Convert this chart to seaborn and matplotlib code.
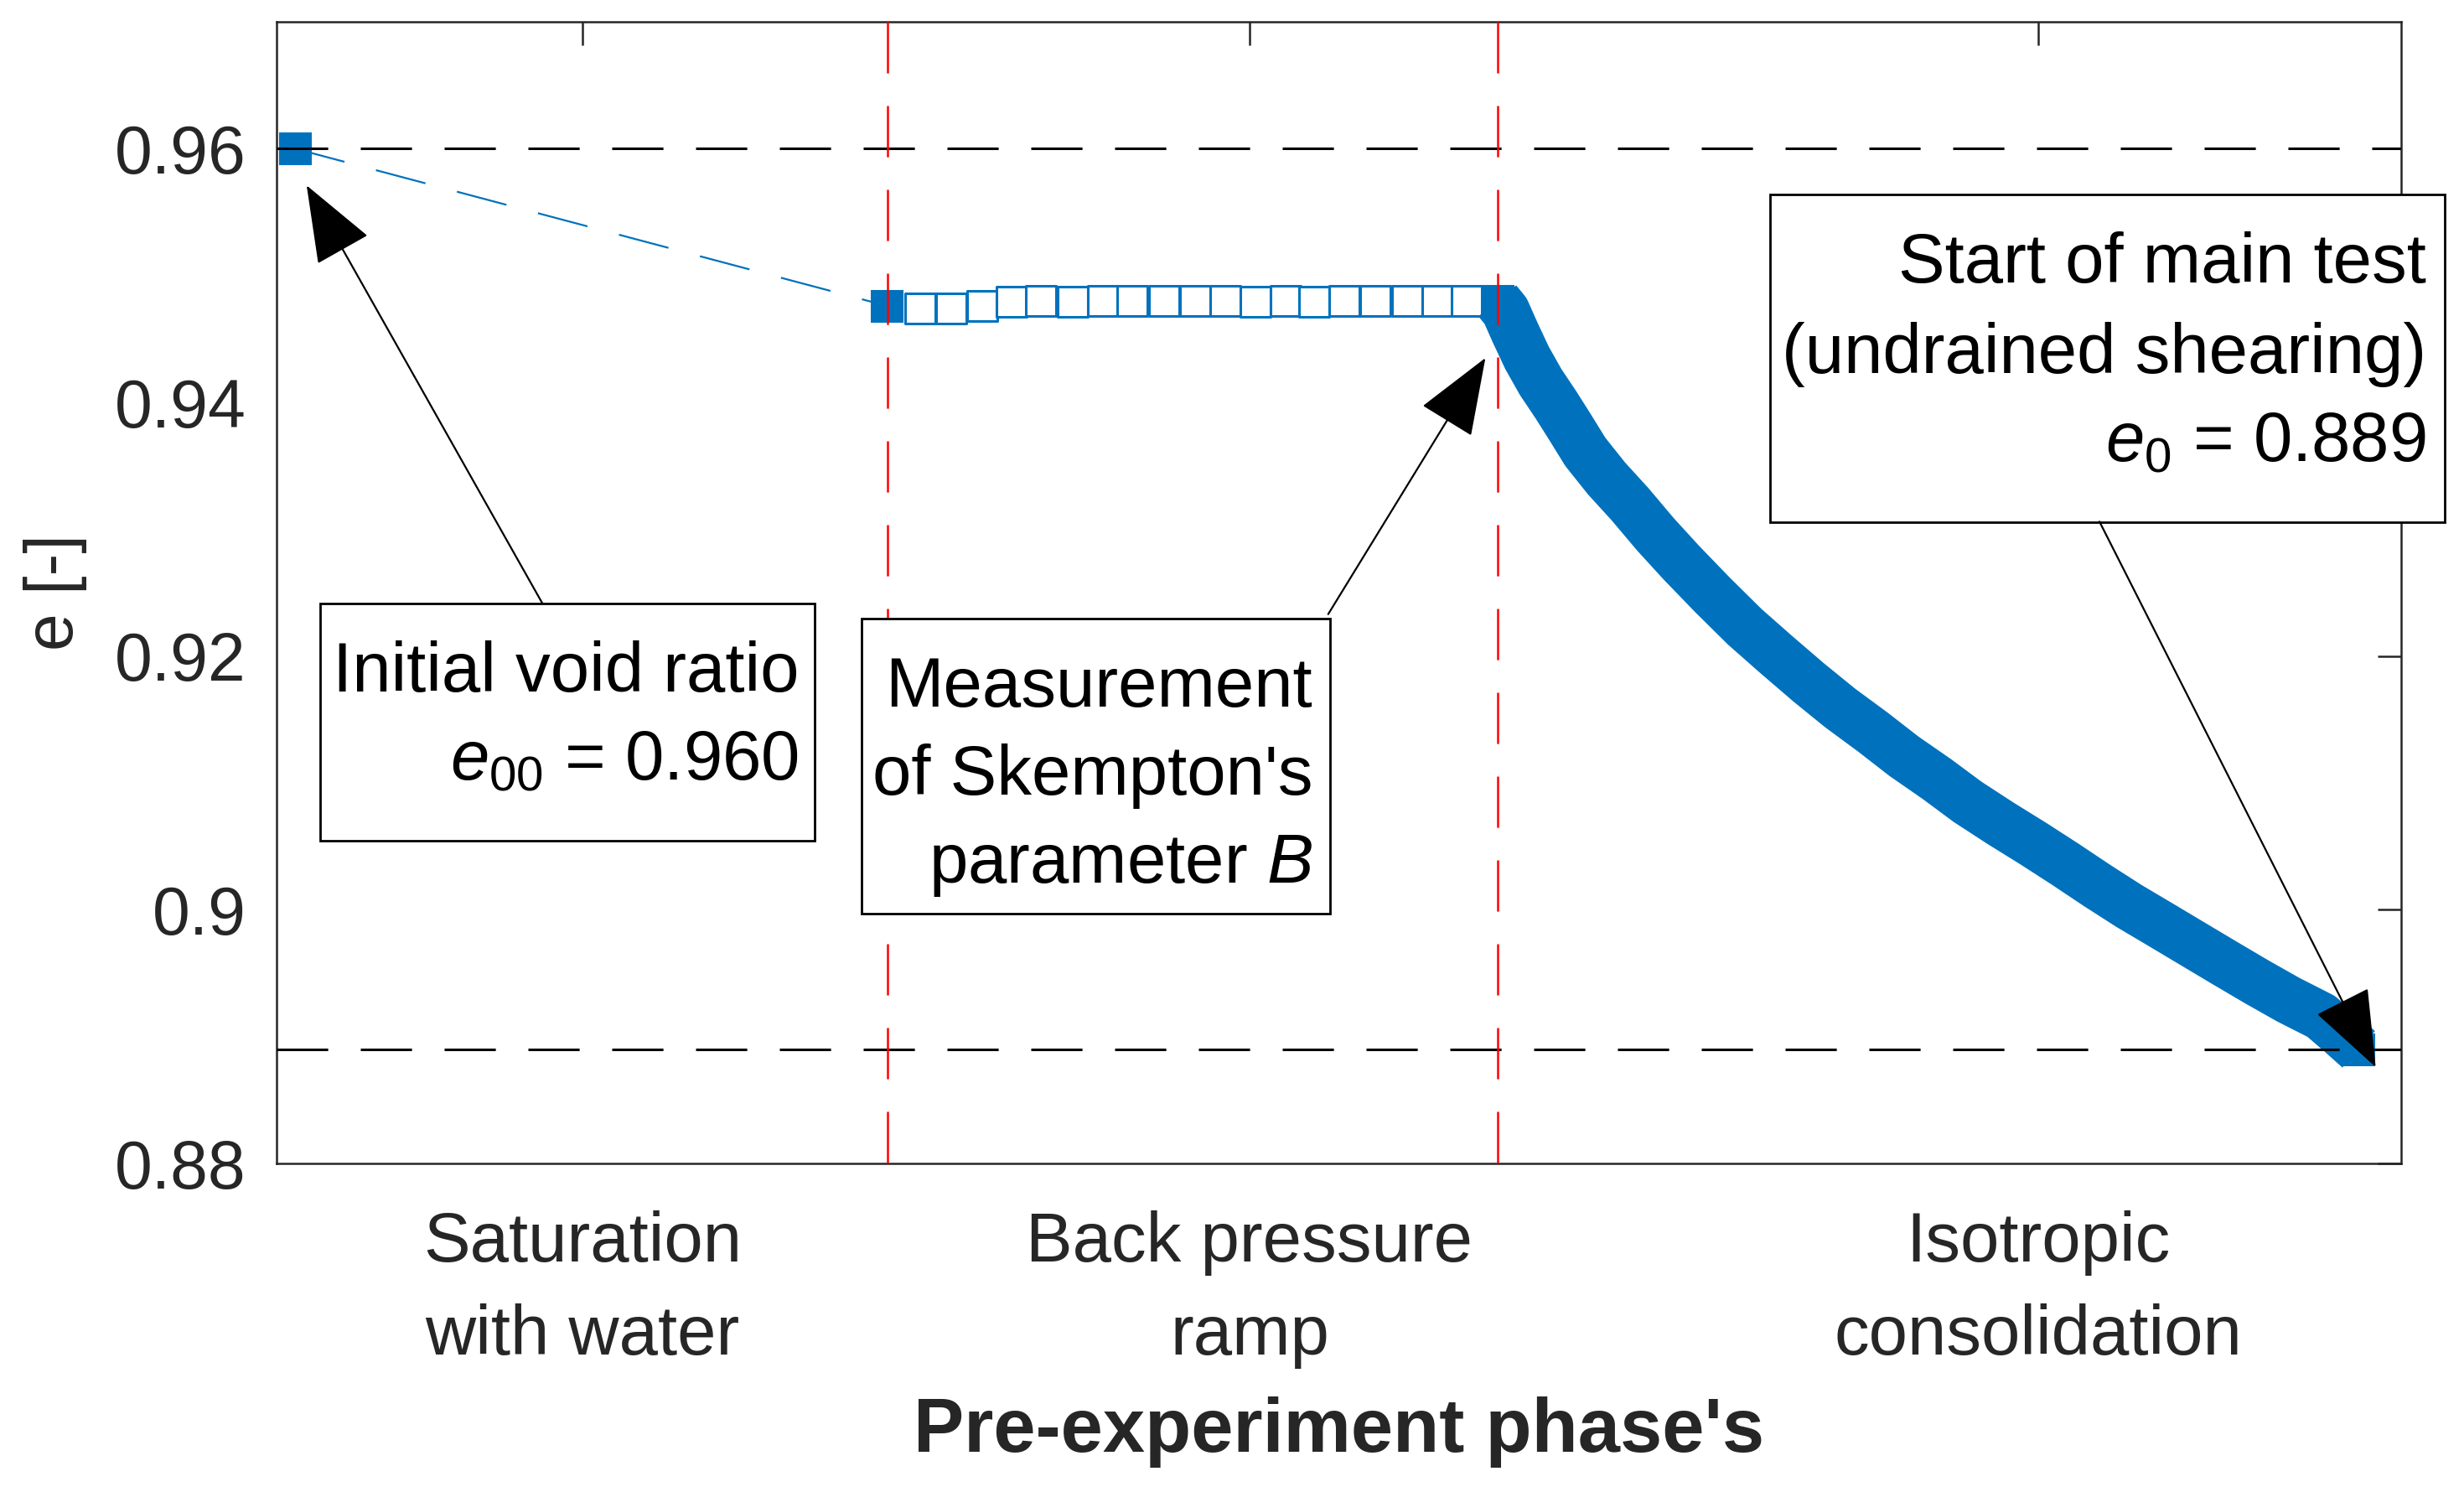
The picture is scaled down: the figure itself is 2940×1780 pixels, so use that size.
import matplotlib
matplotlib.use("Agg")
import matplotlib.pyplot as plt
from matplotlib.patches import Rectangle
import seaborn as sns

# x axis is an arbitrary "progress" scale (0-100) split into three phases
phase_ticks = [14.4, 45.8, 82.9]
phase_labels = ["Saturation\nwith water", "Back pressure\nramp", "Isotropic\nconsolidation"]
phase_bounds = [28.76, 57.46]

e00 = 0.960
e0 = 0.889

y_ticks = [0.88, 0.90, 0.92, 0.94, 0.96]
y_tick_labels = ["0.88", "0.9", "0.92", "0.94", "0.96"]

# saturation: initial state and state after saturation
sat_x = [0.87, 28.74]
sat_y = [0.9600, 0.9476]

# back pressure ramp
ramp_x = [30.28, 31.75, 33.22, 34.58, 35.99, 37.46, 38.88, 40.29, 41.76, 43.23,
          44.66, 46.06, 47.49, 48.85, 50.26, 51.73, 53.20, 54.62, 56.03]
ramp_y = [0.9474, 0.9474, 0.9476, 0.9479, 0.9480, 0.9479, 0.9480, 0.9480, 0.9480, 0.9480,
          0.9480, 0.9479, 0.9480, 0.9479, 0.9480, 0.9480, 0.9480, 0.9480, 0.9480]

# isotropic consolidation
cons_x = [57.46, 57.85, 58.30, 58.86, 59.50, 60.22, 60.90, 61.60, 62.60, 63.69,
          64.90, 66.10, 67.60, 69.11, 70.60, 72.13, 73.60, 75.14, 76.60, 78.15,
          79.60, 81.16, 82.70, 84.18, 85.70, 87.19, 88.70, 90.20, 91.70, 93.22,
          94.70, 96.23, 97.20, 98.00]
cons_y = [0.9480, 0.9472, 0.9455, 0.9435, 0.9416, 0.9398, 0.9380, 0.9361, 0.9340, 0.9320,
          0.9296, 0.9274, 0.9248, 0.9223, 0.9201, 0.9179, 0.9159, 0.9140, 0.9121, 0.9103,
          0.9085, 0.9068, 0.9052, 0.9036, 0.9019, 0.9003, 0.8988, 0.8973, 0.8958, 0.8943,
          0.8929, 0.8916, 0.8902, 0.8890]

BLUE = "#0072BD"
DARK = "#262626"
DASH = (0, (22, 14))
FS = 30

sns.set_style("white")
plt.rcParams["font.family"] = ["Liberation Sans", "DejaVu Sans"]
plt.rcParams["mathtext.fontset"] = "custom"
plt.rcParams["mathtext.rm"] = "Liberation Sans"
plt.rcParams["mathtext.it"] = "Liberation Sans:italic"
plt.rcParams["lines.scale_dashes"] = False

fig, ax = plt.subplots(figsize=(14.7, 8.9), dpi=200)
fig.subplots_adjust(left=0.1122, right=0.9745, bottom=0.2202, top=0.9854)

# data
sns.lineplot(x=sat_x, y=sat_y, ax=ax, color=BLUE, lw=0.8, linestyle=DASH,
             marker="s", markersize=13, markerfacecolor=BLUE,
             markeredgecolor=BLUE, markeredgewidth=1.1, zorder=3)
sns.scatterplot(x=ramp_x, y=ramp_y, ax=ax, marker="s", s=13 ** 2,
                facecolor="white", edgecolor=BLUE, linewidth=1.1, zorder=3)
sns.lineplot(x=cons_x, y=cons_y, ax=ax, color=BLUE, lw=21,
             solid_joinstyle="round", solid_capstyle="butt",
             marker="s", markersize=13, markerfacecolor=BLUE,
             markeredgecolor=BLUE, markeredgewidth=1.1, zorder=3)

# reference lines
for e in [e00, e0]:
    ax.axhline(e, color="black", lw=1.1, linestyle=DASH, zorder=4)
for xb in phase_bounds:
    ax.axvline(xb, ymin=1, ymax=0, color="red", lw=0.9, linestyle=DASH, zorder=4)

ax.set_xlim(0, 100)
ax.set_ylim(0.88, 0.97)
ax.set_yticks(y_ticks)
ax.set_yticklabels(y_tick_labels, fontsize=29)
ax.set_xticks(phase_ticks)
ax.set_xticklabels(phase_labels, fontsize=FS)
for lab in ax.get_xticklabels():
    lab.set_linespacing(1.55)

ax.tick_params(direction="in", length=10, width=0.9, top=True, right=True,
               color=DARK, labelcolor=DARK)
ax.tick_params(axis="x", pad=20)
ax.tick_params(axis="y", pad=13)
for sp in ax.spines.values():
    sp.set_color(DARK)
    sp.set_linewidth(0.9)

ax.set_xlabel("Pre-experiment phase's", fontsize=32.5, fontweight="bold",
              color=DARK, labelpad=12)
ax.set_ylabel("e [-]", fontsize=29, color=DARK, labelpad=12)

# annotation boxes (axes fraction): left, bottom, width, height
boxes = [
    ((0.0205, 0.2827, 0.2328, 0.2078), 0.2458,
     ["Initial void ratio", "$e_{00}$ = 0.960"], [0.4134, 0.3363]),
    ((0.2753, 0.2188, 0.2206, 0.2584), 0.4876,
     ["Measurement", "of Skempton's", "parameter $B$"], [0.4001, 0.3231, 0.2460]),
    ((0.7030, 0.5617, 0.3175, 0.2871), 1.0118,
     ["Start of main test", "(undrained shearing)", "$e_0$ = 0.889"], [0.7717, 0.6924, 0.6153]),
]
for (bx, by, bw, bh), tx, lines, ys in boxes:
    ax.add_patch(Rectangle((bx, by), bw, bh, transform=ax.transAxes,
                           facecolor="white", edgecolor="black", lw=1.0,
                           clip_on=False, zorder=10))
    for s, ty in zip(lines, ys):
        ax.text(tx, ty, s, transform=ax.transAxes, ha="right", va="baseline",
                fontsize=FS, color="black", zorder=12, clip_on=False)

# arrows: (tail, tip) in data coordinates
arrows = [
    ((12.5, 0.9242), (1.42, 0.9571)),
    ((49.5, 0.9233), (56.9, 0.9435)),
    ((85.8, 0.9306), (98.8, 0.8876)),
]
for tail, tip in arrows:
    ax.annotate("", xy=tip, xytext=tail,
                arrowprops=dict(arrowstyle="-|>,head_length=3.0,head_width=1.15",
                                mutation_scale=10, lw=0.8, color="black",
                                shrinkA=0, shrinkB=0),
                zorder=11)

fig.savefig("out.png", dpi=200)
plt.close()
